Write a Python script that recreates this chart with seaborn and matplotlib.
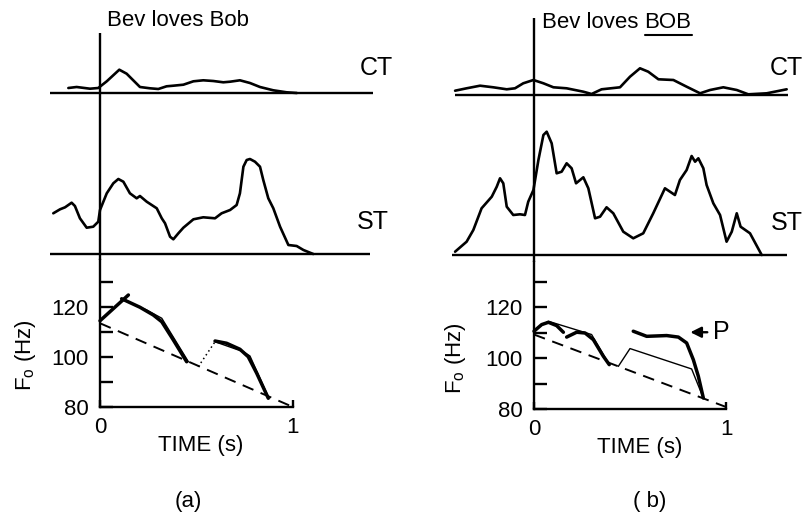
import numpy as np
import pandas as pd
import matplotlib
matplotlib.use("Agg")
import matplotlib.pyplot as plt
from matplotlib.lines import Line2D
import seaborn as sns

# ---------------- data ----------------
# Panel (a)  "Bev loves Bob"
ct_a_t = [-0.164, -0.121, -0.052, -0.009, 0.035, 0.100, 0.138, 0.207, 0.259, 0.302, 0.345,
          0.380, 0.432, 0.484, 0.535, 0.587, 0.639, 0.674, 0.725, 0.777, 0.829, 0.898, 0.967, 1.02]
ct_a_v = [5, 6, 4.3, 5, 11.7, 23.3, 19.3, 6, 4.7, 4, 6.7,
          7.3, 8.3, 11.7, 12.7, 12, 10.7, 11.3, 12.7, 10, 6, 2.7, 0.7, 0]

st_a_t = [-0.242, -0.207, -0.181, -0.147, -0.130, -0.104, -0.069, -0.035, -0.009, 0.0, 0.035,
          0.069, 0.095, 0.121, 0.155, 0.190, 0.207, 0.242, 0.294, 0.320, 0.337, 0.363, 0.380,
          0.406, 0.432, 0.484, 0.535, 0.596, 0.630, 0.674, 0.708, 0.725, 0.743, 0.760, 0.777,
          0.803, 0.829, 0.846, 0.872, 0.898, 0.933, 0.976, 1.019, 1.054, 1.105]
st_a_v = [40.7, 44.7, 46.7, 51.3, 48, 35.7, 26.3, 27.3, 32.3, 44, 60.7,
          70.7, 75, 72.3, 60.7, 55.7, 58, 52.3, 45.7, 35.7, 30.7, 17.3, 14.7,
          20.7, 26.3, 34.7, 36.7, 35.7, 40.7, 44, 49, 60.7, 87.3, 94, 95,
          92.3, 87.3, 74, 55.7, 45.7, 27.3, 9, 8, 4, 0]

f0_a_rise_t = [0.0, 0.147]
f0_a_rise_hz = [114.5, 124.8]
f0_a_model1_t = [0.112, 0.242, 0.320, 0.458]
f0_a_model1_hz = [123.1, 118.8, 115.5, 98.1]
f0_a_meas1_t = [0.112, 0.207, 0.276, 0.320, 0.380, 0.449]
f0_a_meas1_hz = [123.3, 119.9, 116.8, 114.1, 106.8, 98.1]
f0_a_dot_t = [0.509, 0.596]
f0_a_dot_hz = [96.1, 106.1]
f0_a_model2_t = [0.596, 0.743, 0.777, 0.872]
f0_a_model2_hz = [106.1, 102.1, 100.4, 84.1]
f0_a_meas2_t = [0.596, 0.656, 0.725, 0.768, 0.812, 0.872]
f0_a_meas2_hz = [106.4, 105.5, 103.1, 100.1, 93.5, 83.5]
f0_a_base_t = [0.0, 1.0]
f0_a_base_hz = [113.5, 80.0]

# Panel (b)  "Bev loves BOB"
ct_b_t = [-0.411, -0.351, -0.281, -0.212, -0.142, -0.099, -0.056, -0.003, 0.049, 0.101, 0.170,
          0.257, 0.300, 0.352, 0.448, 0.500, 0.552, 0.595, 0.648, 0.726, 0.795, 0.865, 0.917,
          0.986, 1.056, 1.116, 1.212, 1.316]
ct_b_v = [4.3, 6.7, 9.3, 7.7, 5.7, 6.7, 11.7, 15, 11.7, 7.7, 6.7,
          3.3, 1, 5.7, 7.7, 18.3, 26.7, 23.3, 15.7, 15, 8.3, 1.7, 5,
          7.7, 5, 0.7, 1.7, 5.7]

st_b_t = [-0.411, -0.351, -0.316, -0.273, -0.220, -0.194, -0.177, -0.160, -0.142, -0.108, -0.073,
          -0.047, -0.030, -0.003, 0.023, 0.049, 0.066, 0.092, 0.118, 0.144, 0.170, 0.196, 0.219,
          0.257, 0.283, 0.318, 0.344, 0.378, 0.413, 0.465, 0.517, 0.569, 0.621, 0.682, 0.734,
          0.760, 0.795, 0.821, 0.839, 0.856, 0.882, 0.899, 0.934, 0.969, 1.003, 1.030, 1.056,
          1.076, 1.125, 1.186]
st_b_v = [3.3, 13.3, 25, 46.7, 58.3, 68.3, 76.7, 71.7, 48.3, 40, 40.7,
          40, 53.3, 65, 95, 120, 123.3, 111.7, 81.7, 83.3, 91.7, 86.7, 71.7,
          77.7, 66.7, 36.7, 38.3, 47.7, 41.7, 23.3, 16.7, 21.7, 41.7, 66.7, 60,
          75, 85, 99, 93.3, 96.7, 86.7, 70, 51.7, 40, 13.3, 23.3, 41.7,
          28.3, 21.7, 0]

f0_b_meas1_t = [0.0, 0.040, 0.075, 0.118, 0.153]
f0_b_meas1_hz = [110.5, 113.1, 114.0, 112.7, 110.1]
f0_b_meas2_t = [0.170, 0.222, 0.266, 0.309, 0.361, 0.392]
f0_b_meas2_hz = [108.2, 110.1, 109.8, 107.2, 100.7, 97.4]
f0_b_model1_t = [0.0, 0.075, 0.300, 0.392]
f0_b_model1_hz = [111.0, 114.4, 109.2, 97.4]
f0_b_model2_t = [0.439, 0.500, 0.821, 0.882]
f0_b_model2_hz = [96.7, 103.7, 95.7, 84.3]
f0_b_meas3_t = [0.517, 0.587, 0.691, 0.752, 0.795, 0.830, 0.856, 0.882]
f0_b_meas3_hz = [110.5, 108.5, 108.8, 108.2, 105.9, 99.3, 92.8, 84.3]
f0_b_base_t = [0.0, 1.0]
f0_b_base_hz = [109.2, 80.8]

y_ticks = [80, 90, 100, 110, 120, 130]
y_ticklabels = ["80", "", "100", "", "120", ""]
x_ticks = [0, 1]
x_ticklabels = ["0", "1"]

# ---------------- style ----------------
W, H = 807, 520
sns.set_theme(style="white")
plt.rcParams["font.family"] = ["Liberation Sans", "DejaVu Sans"]
plt.rcParams["mathtext.fontset"] = "custom"
plt.rcParams["mathtext.rm"] = "Liberation Sans"
plt.rcParams["mathtext.it"] = "Liberation Sans:italic"
plt.rcParams["mathtext.bf"] = "Liberation Sans:bold"

fig = plt.figure(figsize=(W / 100, H / 100), dpi=100)
fig.patch.set_facecolor("white")

TRACE_LW = 1.9
THICK_LW = 2.5
THIN_LW = 1.0
AX_LW = 1.7


def px_axes(x0, y0, x1, y1):
    ax = fig.add_axes([x0 / W, 1 - y1 / H, (x1 - x0) / W, (y1 - y0) / H])
    ax.set_facecolor("none")
    return ax


def trace(ax, t, v, lw=TRACE_LW, ls="-"):
    df = pd.DataFrame({"t": t, "v": v})
    sns.lineplot(data=df, x="t", y="v", ax=ax, color="black", lw=lw, linestyle=ls,
                 sort=False, estimator=None, solid_joinstyle="round", solid_capstyle="round")


def blank(ax):
    for s in ax.spines.values():
        s.set_visible(False)
    ax.set_xticks([])
    ax.set_yticks([])
    ax.set_xlabel("")
    ax.set_ylabel("")


def panel(xpx, zero_px, px_per_s, ct_box, st_box, f0_box, ct_base, st_base,
          ct, st, f0_lines, hz_per_px, vtop, ylabel_px, xlabel_px):
    tmin = (xpx[0] - zero_px) / px_per_s
    tmax = (xpx[1] - zero_px) / px_per_s
    # CT
    ax_ct = px_axes(xpx[0], ct_box[0], xpx[1], ct_box[2])
    trace(ax_ct, *ct)
    ax_ct.set_xlim(tmin, tmax)
    ax_ct.set_ylim(ct_box[1] - ct_box[2], ct_box[1] - ct_box[0])
    ax_ct.hlines(0, ct_base[0], ct_base[1], color="black", lw=AX_LW)
    ax_ct.vlines(0, ct_box[1] - ct_box[2], ct_box[1] - vtop, color="black", lw=AX_LW)
    blank(ax_ct)
    # ST
    ax_st = px_axes(xpx[0], st_box[0], xpx[1], st_box[2])
    trace(ax_st, *st)
    ax_st.set_xlim(tmin, tmax)
    ax_st.set_ylim(st_box[1] - st_box[2], st_box[1] - st_box[0])
    ax_st.hlines(0, st_base[0], st_base[1], color="black", lw=AX_LW)
    ax_st.axvline(0, color="black", lw=AX_LW)
    blank(ax_st)
    # F0
    ax_f = px_axes(xpx[0], f0_box[0], xpx[1], f0_box[1])
    for (t, hz, lw, ls) in f0_lines:
        trace(ax_f, t, hz, lw=lw, ls=ls)
    ax_f.set_xlim(tmin, tmax)
    ax_f.set_ylim(80, 80 + (f0_box[1] - f0_box[0]) * hz_per_px)
    ax_f.spines["top"].set_visible(False)
    ax_f.spines["right"].set_visible(False)
    ax_f.spines["left"].set_position(("data", 0))
    ax_f.spines["bottom"].set_bounds(0, 1)
    for s in ("left", "bottom"):
        ax_f.spines[s].set_linewidth(AX_LW)
        ax_f.spines[s].set_color("black")
    ax_f.set_yticks(y_ticks)
    ax_f.set_yticklabels(y_ticklabels)
    ax_f.set_xticks(x_ticks)
    ax_f.set_xticklabels(x_ticklabels)
    ax_f.tick_params(axis="y", left=True, direction="in", length=9, width=AX_LW,
                     pad=8, labelsize=16, colors="black")
    ax_f.tick_params(axis="x", bottom=True, direction="in", length=5, width=AX_LW,
                     pad=7, labelsize=16, colors="black")
    ax_f.set_xlabel("TIME (s)", fontsize=16, color="black")
    ax_f.xaxis.set_label_coords((xlabel_px[0] - xpx[0]) / (xpx[1] - xpx[0]),
                                -(xlabel_px[1] - f0_box[1]) / (f0_box[1] - f0_box[0]))
    ax_f.xaxis.label.set_va("center")
    ax_f.set_ylabel(r"F$_\mathrm{o}$ (Hz)", fontsize=16, color="black")
    ax_f.yaxis.set_label_coords((ylabel_px[0] - xpx[0]) / (xpx[1] - xpx[0]),
                                (f0_box[1] - ylabel_px[1]) / (f0_box[1] - f0_box[0]))
    ax_f.yaxis.label.set_va("center")
    ax_f.grid(False)
    return ax_f


# Panel (a)
panel(xpx=(40, 400), zero_px=100, px_per_s=193,
      ct_box=(30, 93, 100), st_box=(100, 254, 260), f0_box=(260, 407),
      ct_base=(-0.259, 1.415), st_base=(-0.259, 1.399),
      ct=(ct_a_t, ct_a_v), st=(st_a_t, st_a_v),
      f0_lines=[(f0_a_base_t, f0_a_base_hz, 1.4, (0, (6, 4))),
                (f0_a_rise_t, f0_a_rise_hz, THICK_LW, "-"),
                (f0_a_model1_t, f0_a_model1_hz, THIN_LW, "-"),
                (f0_a_meas1_t, f0_a_meas1_hz, THICK_LW, "-"),
                (f0_a_dot_t, f0_a_dot_hz, 1.1, (0, (1, 2))),
                (f0_a_model2_t, f0_a_model2_hz, THIN_LW, "-"),
                (f0_a_meas2_t, f0_a_meas2_hz, THICK_LW, "-")],
      hz_per_px=1 / 2.5, vtop=33, ylabel_px=(25, 355), xlabel_px=(201, 446))

# Panel (b)
ax_fb = panel(xpx=(420, 807), zero_px=534, px_per_s=192,
              ct_box=(15, 95, 102), st_box=(102, 255, 262), f0_box=(262, 409),
              ct_base=(-0.411, 1.323), st_base=(-0.427, 1.318),
              ct=(ct_b_t, ct_b_v), st=(st_b_t, st_b_v),
              f0_lines=[(f0_b_base_t, f0_b_base_hz, 1.4, (0, (6, 4))),
                        (f0_b_meas1_t, f0_b_meas1_hz, THICK_LW, "-"),
                        (f0_b_meas2_t, f0_b_meas2_hz, THICK_LW, "-"),
                        (f0_b_model1_t, f0_b_model1_hz, THIN_LW, "-"),
                        (f0_b_model2_t, f0_b_model2_hz, THIN_LW, "-"),
                        (f0_b_meas3_t, f0_b_meas3_hz, THICK_LW, "-")],
              hz_per_px=1 / 2.55, vtop=18, ylabel_px=(455, 358), xlabel_px=(640, 447))

# "<- P" marker
ax_fb.annotate("", xy=(0.80, 110.1), xytext=(0.917, 110.1),
               arrowprops=dict(arrowstyle="-|>", color="black", lw=1.7, mutation_scale=16))
ax_fb.text(0.93, 110.1, "P", fontsize=18, va="center", ha="left", color="black")

# ---------------- texts ----------------
def ftext(x, y, s, **kw):
    return fig.text(x / W, 1 - y / H, s, color="black", **kw)

ftext(107, 20, "Bev loves Bob", fontsize=16, ha="left", va="center")
tb1 = ftext(542, 22, "Bev loves ", fontsize=16, ha="left", va="center")
fig.canvas.draw()
r = fig.canvas.get_renderer()
bb1 = tb1.get_window_extent(r)
tb2 = fig.text(bb1.x1 / W, 1 - 22 / H, "BOB", fontsize=16, ha="left", va="center", color="black")
fig.canvas.draw()
bb2 = tb2.get_window_extent(r)
fig.add_artist(Line2D([bb2.x0 / W, bb2.x1 / W], [(bb2.y0 - 2) / H, (bb2.y0 - 2) / H],
                      color="black", lw=1.5))

ftext(376, 68, "CT", fontsize=18, ha="center", va="center")
ftext(373, 222, "ST", fontsize=18, ha="center", va="center")
ftext(786, 68, "CT", fontsize=18, ha="center", va="center")
ftext(787, 223, "ST", fontsize=18, ha="center", va="center")

ftext(188, 502, "(a)", fontsize=16, ha="center", va="center")
ftext(650, 502, "( b)", fontsize=16, ha="center", va="center")

fig.savefig("out.png", dpi=100, facecolor="white")
